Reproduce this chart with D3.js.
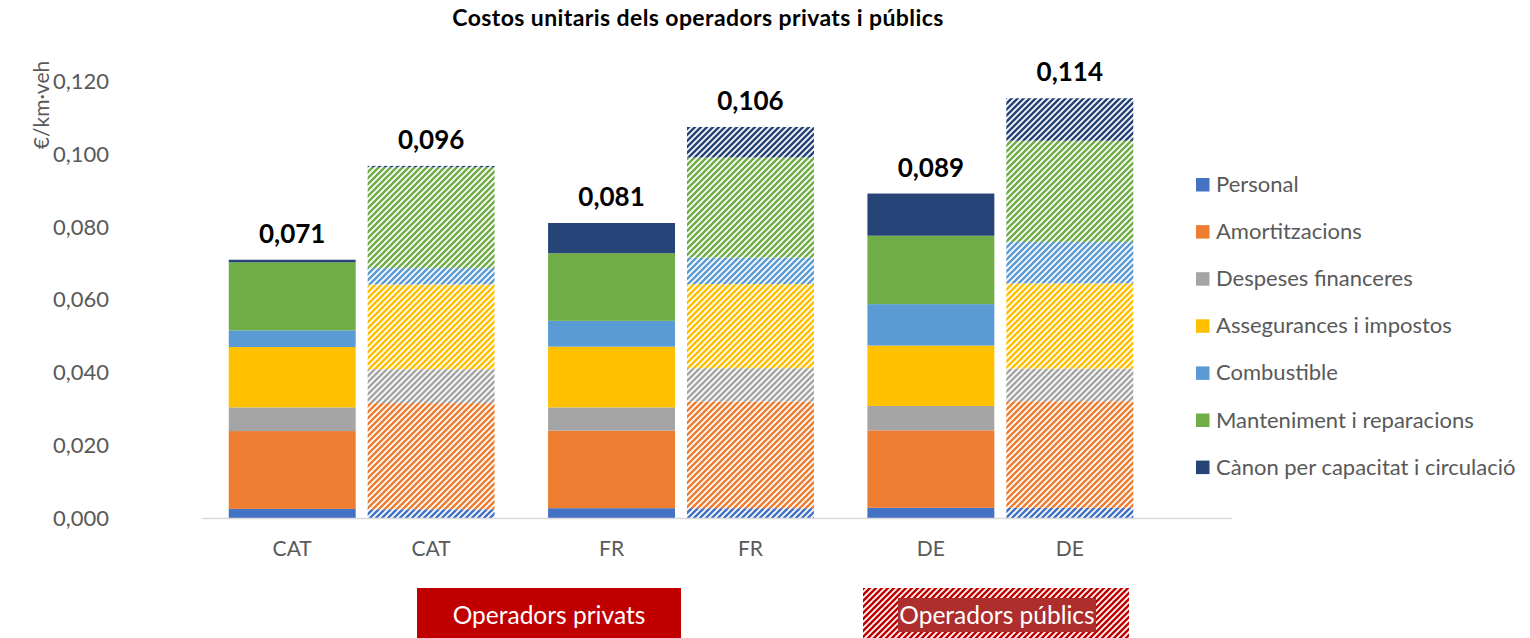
<!DOCTYPE html>
<html>
<head>
<meta charset="utf-8">
<script src="https://cdn.jsdelivr.net/npm/d3@7"></script>
<style>
  html, body { margin: 0; padding: 0; background: #fff; }
  svg text { font-family: Lato, "Open Sans", sans-serif; }
</style>
</head>
<body>
<div id="chart"></div>
<script>
// categories (countries) and the two operator types
const groups = ['CAT', 'FR', 'DE'];
const operators = ['priv', 'pub'];

// cost components, bottom to top
const series = ['Personal', 'Amortitzacions', 'Despeses financeres', 'Assegurances i impostos',
  'Combustible', 'Manteniment i reparacions', 'Cànon per capacitat i circulació'];
const colors = ['#4472C4', '#ED7D31', '#A5A5A5', '#FFC000', '#5B9BD5', '#70AD47', '#264478'];

// values in €/km·veh, one entry per component (same order as series)
const catPriv = [0.0025, 0.0214, 0.0065, 0.0166, 0.0046, 0.0187, 0.0007];
const catPub  = [0.0024, 0.0292, 0.0093, 0.0233, 0.0045, 0.0277, 0.0004];
const frPriv  = [0.0027, 0.0213, 0.0064, 0.0167, 0.0071, 0.0186, 0.0083];
const frPub   = [0.0027, 0.0293, 0.0092, 0.0231, 0.0073, 0.0275, 0.0084];
const dePriv  = [0.0028, 0.0213, 0.0067, 0.0166, 0.0114, 0.0188, 0.0116];
const dePub   = [0.0028, 0.0293, 0.0090, 0.0234, 0.0114, 0.0278, 0.0117];

// printed totals above each bar
const totalLabels = [0.071, 0.096, 0.081, 0.106, 0.089, 0.114];
const yTicks = [0, 0.02, 0.04, 0.06, 0.08, 0.10, 0.12];

const width = 1530, height = 638;
const plot = {left: 202, right: 1160, top: 81.5, bottom: 518};

const rows = [
  {group: 'CAT', op: 'priv', values: catPriv},
  {group: 'CAT', op: 'pub', values: catPub},
  {group: 'FR', op: 'priv', values: frPriv},
  {group: 'FR', op: 'pub', values: frPub},
  {group: 'DE', op: 'priv', values: dePriv},
  {group: 'DE', op: 'pub', values: dePub}
];

const svg = d3.select('#chart')
  .append('svg')
  .attr('width', width)
  .attr('height', height);

// hatch patterns for the public operators
const defs = svg.append('defs');
function addHatch(id, color) {
  const p = defs.append('pattern')
    .attr('id', id)
    .attr('patternUnits', 'userSpaceOnUse')
    .attr('width', 6)
    .attr('height', 6);
  p.append('rect').attr('width', 6).attr('height', 6).attr('fill', '#fff');
  p.append('path')
    .attr('d', 'M0,6 L6,0 M-1.5,1.5 L1.5,-1.5 M4.5,7.5 L7.5,4.5')
    .attr('stroke', color)
    .attr('stroke-width', 2.5);
}
colors.forEach((c, i) => addHatch('hatch-' + i, c));
addHatch('hatch-red', '#C00000');

const x0 = d3.scaleBand().domain(groups).range([plot.left, plot.right]);
const x1 = d3.scaleBand().domain(operators).range([0, x0.bandwidth()])
  .paddingInner(0.0863).paddingOuter(0.1925);
const y = d3.scaleLinear().domain([0, 0.12]).range([plot.bottom, plot.top]);

const locale = d3.formatLocale({decimal: ',', thousands: '.', grouping: [3], currency: ['', '€']});
const fmt = locale.format('.3f');

// title
svg.append('text')
  .attr('x', 698)
  .attr('y', 26)
  .attr('text-anchor', 'middle')
  .attr('font-size', 23)
  .attr('letter-spacing', 0.4)
  .attr('font-weight', 'bold')
  .attr('fill', '#000')
  .text('Costos unitaris dels operadors privats i públics');

// y axis
const yaxis = d3.axisLeft(y).tickValues(yTicks).tickFormat(fmt).tickSize(0).tickPadding(0);
const gy = svg.append('g')
  .attr('transform', 'translate(109,0)')
  .call(yaxis);
gy.select('.domain').remove();
gy.selectAll('text')
  .attr('font-size', 22)
  .attr('fill', '#595959')
  .attr('font-family', 'Lato, sans-serif');

svg.append('text')
  .attr('transform', 'translate(49,105) rotate(-90)')
  .attr('text-anchor', 'middle')
  .attr('font-size', 21)
  .attr('fill', '#595959')
  .text('€/km·veh');

// stacked bars
rows.forEach((r, ri) => {
  const bx = x0(r.group) + x1(r.op);
  const bw = x1.bandwidth();
  let acc = 0;
  const g = svg.append('g');
  r.values.forEach((v, i) => {
    const y0 = acc, y1 = acc + v;
    acc = y1;
    g.append('rect')
      .attr('x', bx)
      .attr('y', y(y1))
      .attr('width', bw)
      .attr('height', y(y0) - y(y1))
      .attr('fill', r.op === 'priv' ? colors[i] : 'url(#hatch-' + i + ')');
  });
  svg.append('text')
    .attr('x', bx + bw / 2)
    .attr('y', y(acc) - 17)
    .attr('text-anchor', 'middle')
    .attr('font-size', 26)
    .attr('font-weight', 'bold')
    .attr('fill', '#000')
    .text(fmt(totalLabels[ri]));
  svg.append('text')
    .attr('x', bx + bw / 2)
    .attr('y', 556)
    .attr('text-anchor', 'middle')
    .attr('font-size', 21)
    .attr('fill', '#595959')
    .text(r.group);
});

// category axis line
svg.append('line')
  .attr('x1', plot.left)
  .attr('x2', 1232)
  .attr('y1', y(0) + 0.5)
  .attr('y2', y(0) + 0.5)
  .attr('stroke', '#D9D9D9')
  .attr('stroke-width', 1.5);

// legend
const legend = svg.append('g').attr('transform', 'translate(1196,178)');
series.forEach((s, i) => {
  const row = legend.append('g').attr('transform', 'translate(0,' + (i * 47.1) + ')');
  row.append('rect')
    .attr('width', 13.5)
    .attr('height', 13.5)
    .attr('fill', colors[i]);
  row.append('text')
    .attr('x', 20)
    .attr('y', 14)
    .attr('font-size', 22)
    .attr('fill', '#595959')
    .text(s);
});

// operator annotations under the axis
svg.append('rect')
  .attr('x', 417).attr('y', 588).attr('width', 264).attr('height', 50)
  .attr('fill', '#C00000');
svg.append('text')
  .attr('x', 549).attr('y', 624)
  .attr('text-anchor', 'middle')
  .attr('font-size', 24.5)
  .attr('fill', '#fff')
  .text('Operadors privats');

svg.append('rect')
  .attr('x', 863).attr('y', 588).attr('width', 266).attr('height', 50)
  .attr('fill', 'url(#hatch-red)');
svg.append('rect')
  .attr('x', 898).attr('y', 598).attr('width', 198).attr('height', 34)
  .attr('fill', '#AE2E2E');
svg.append('text')
  .attr('x', 997).attr('y', 624)
  .attr('text-anchor', 'middle')
  .attr('font-size', 24.5)
  .attr('fill', '#fff')
  .text('Operadors públics');
</script>
</body>
</html>
